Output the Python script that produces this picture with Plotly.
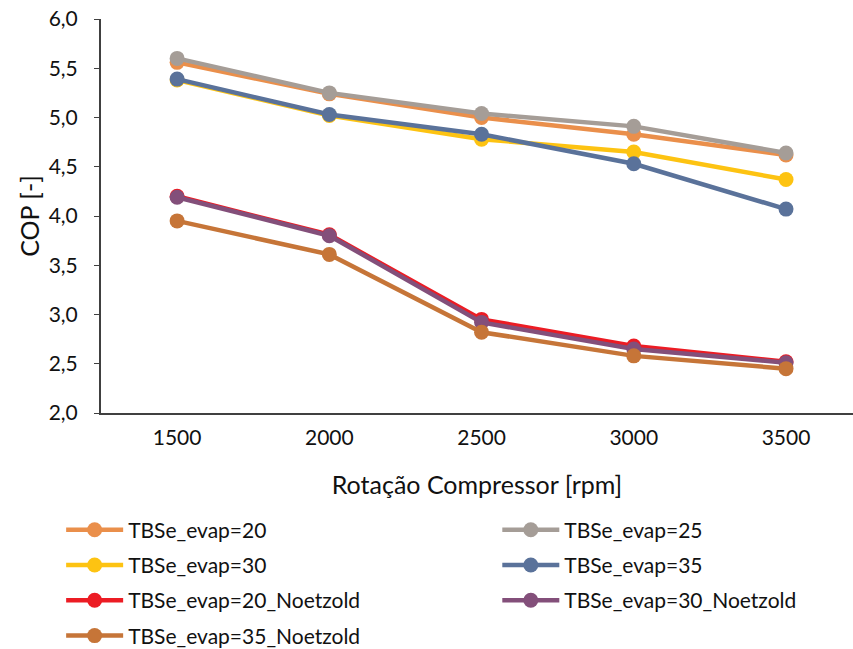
import plotly.graph_objects as go

rpm = ["1500", "2000", "2500", "3000", "3500"]

evap20 = [5.56, 5.24, 5.00, 4.83, 4.62]
evap25 = [5.60, 5.25, 5.04, 4.91, 4.64]
evap30 = [5.38, 5.02, 4.78, 4.65, 4.37]
evap35 = [5.39, 5.03, 4.83, 4.53, 4.07]
evap20_n = [4.20, 3.81, 2.95, 2.68, 2.52]
evap30_n = [4.19, 3.80, 2.92, 2.65, 2.51]
evap35_n = [3.95, 3.61, 2.82, 2.58, 2.45]

names = ["TBSe_evap=20", "TBSe_evap=25", "TBSe_evap=30", "TBSe_evap=35",
         "TBSe_evap=20_Noetzold", "TBSe_evap=30_Noetzold", "TBSe_evap=35_Noetzold"]
series = [evap20, evap25, evap30, evap35, evap20_n, evap30_n, evap35_n]
colors = ["#EA8F4B", "#A59D97", "#FDC312", "#5A729A", "#EC1C24", "#834F7A", "#C67538"]
legends = ["legend", "legend2", "legend", "legend2", "legend", "legend2", "legend"]

FONT = "Lato"
fig = go.Figure()
for i, (n, s, c, lg) in enumerate(zip(names, series, colors, legends)):
    fig.add_trace(go.Scatter(
        x=rpm, y=s, name=n, mode="lines+markers",
        line=dict(color=c, width=4.5),
        marker=dict(color=c, size=15),
        legend=lg, legendgroup=n,
    ))

axcol = "#404040"
fig.update_layout(
    width=853, height=649,
    margin=dict(l=101, r=0, t=19, b=236, autoexpand=False),
    plot_bgcolor="white", paper_bgcolor="white",
    font=dict(family=FONT, size=21, color="#111111"),
    separators=",.",
    showlegend=True,
    xaxis=dict(
        type="category", range=[-0.5, 4.44],
        showline=True, linecolor=axcol, linewidth=2,
        showgrid=False, ticks="", zeroline=False,
        ticklabelstandoff=5, automargin=False,
        title=dict(text="Rotação Compressor [rpm]", standoff=28, font=dict(size=25)),
    ),
    yaxis=dict(
        range=[2.0, 6.0], tickvals=[2.0, 2.5, 3.0, 3.5, 4.0, 4.5, 5.0, 5.5, 6.0],
        tickformat=".1f", automargin=False,
        showline=True, linecolor=axcol, linewidth=2,
        showgrid=False, ticks="outside", ticklen=5, tickcolor=axcol, tickwidth=1,
        zeroline=False, ticklabelstandoff=12,
        title=dict(text="COP [-]", standoff=2, font=dict(size=25)),
    ),
    legend=dict(
        x=-0.053, y=-0.245, xanchor="left", yanchor="top",
        orientation="v", tracegroupgap=5, itemwidth=57,
        font=dict(size=21), bgcolor="rgba(0,0,0,0)",
    ),
    legend2=dict(
        x=0.527, y=-0.245, xanchor="left", yanchor="top",
        orientation="v", tracegroupgap=5, itemwidth=57,
        font=dict(size=21), bgcolor="rgba(0,0,0,0)",
    ),
)

fig.write_html("out.html")
